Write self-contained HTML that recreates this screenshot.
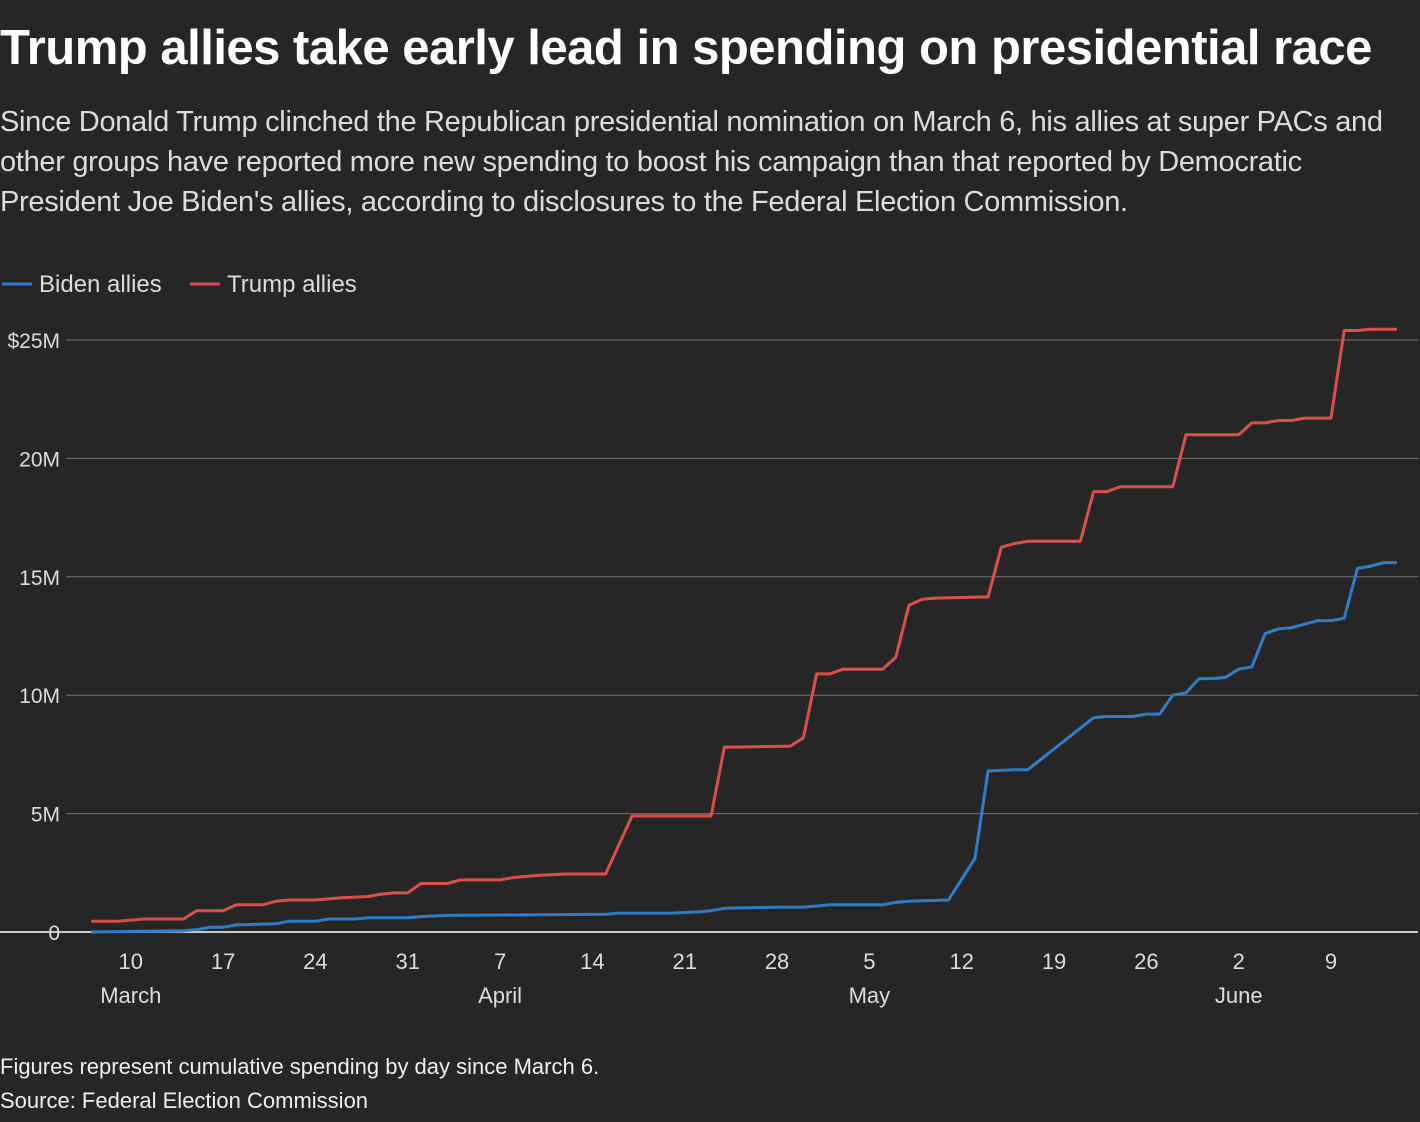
<!DOCTYPE html>
<html><head><meta charset="utf-8"><style>
body{margin:0;background:#262626;width:1420px;height:1122px;overflow:hidden;font-family:"Liberation Sans",sans-serif;color:#fff}
#title{position:absolute;left:0;top:20px;font-size:49px;font-weight:bold;letter-spacing:-0.5px;margin:0;white-space:nowrap}
#sub{position:absolute;left:0;top:102px;font-size:29px;line-height:40px;color:#ddd;width:1415px;margin:0;letter-spacing:-0.3px}
#notes{position:absolute;left:0;top:1050px;font-size:22px;line-height:34px;color:#eee}
svg{position:absolute;left:0;top:0}
</style></head><body>
<h1 id="title">Trump allies take early lead in spending on presidential race</h1>
<p id="sub">Since Donald Trump clinched the Republican presidential nomination on March 6, his allies at super PACs and other groups have reported more new spending to boost his campaign than that reported by Democratic President Joe Biden's allies, according to disclosures to the Federal Election Commission.</p>
<svg id="chart" width="1420" height="1122"></svg>
<div id="notes"><div>Figures represent cumulative spending by day since March 6.</div><div>Source: Federal Election Commission</div></div>
<script>
const yTicks=[0,5,10,15,20,25];
const yTickLabels=["0","5M","10M","15M","20M","$25M"];
const xTickDays=[4,11,18,25,32,39,46,53,60,67,74,81,88,95];
const xTickLabels=["10","17","24","31","7","14","21","28","5","12","19","26","2","9"];
const monthDays=[4,32,60,88];
const monthLabels=["March","April","May","June"];
const trumpDays=[1,3,5,8,9,11,12,14,15,16,18,20,22,23,24,25,26,28,29,32,33,35,37,40,42,48,49,54,55,56,57,58,61,62,63,64,65,69,70,71,72,76,77,78,79,83,84,88,89,90,91,92,93,95,96,97,98,100];
const trumpVals=[0.45,0.45,0.55,0.55,0.9,0.9,1.15,1.15,1.3,1.35,1.35,1.45,1.5,1.6,1.65,1.65,2.05,2.05,2.2,2.2,2.3,2.4,2.45,2.45,4.9,4.9,7.8,7.85,8.2,10.9,10.9,11.1,11.1,11.6,13.8,14.05,14.1,14.15,16.25,16.4,16.5,16.5,18.6,18.6,18.8,18.8,21,21,21.5,21.5,21.6,21.6,21.7,21.7,25.4,25.4,25.45,25.45];
const bidenDays=[1,8,9,10,11,12,15,16,18,19,21,22,25,26,28,40,41,45,47,48,49,53,55,56,57,61,62,63,66,68,69,71,72,77,78,80,81,82,83,84,85,86,87,88,89,90,91,92,94,95,96,97,98,99,100];
const bidenVals=[0,0.05,0.1,0.2,0.2,0.3,0.35,0.45,0.45,0.55,0.55,0.6,0.6,0.65,0.7,0.75,0.8,0.8,0.85,0.9,1.0,1.05,1.05,1.1,1.15,1.15,1.25,1.3,1.35,3.1,6.8,6.85,6.85,9.05,9.1,9.1,9.2,9.2,10.0,10.1,10.7,10.7,10.75,11.1,11.2,12.6,12.8,12.85,13.15,13.15,13.25,15.35,15.45,15.6,15.6];
const svg=document.getElementById('chart');const NS='http://www.w3.org/2000/svg';
const x=d=>78+d*13.19, y=v=>932-v*23.68;
function mk(t,a,p){const e=document.createElementNS(NS,t);for(const k in a)e.setAttribute(k,a[k]);(p||svg).appendChild(e);return e;}
yTicks.forEach((v,i)=>{
 const l=mk('line',{x1:v===0?0:66,x2:1418,y1:y(v),y2:y(v),stroke:v===0?'#fff':'#777','stroke-width':v===0?1.5:1});
 
 
 const t=mk('text',{x:60,y:y(v)+8,'text-anchor':'end','font-size':21,fill:'#ddd'});t.textContent=yTickLabels[i];
 
 
});
xTickDays.forEach((d,i)=>{const t=mk('text',{x:x(d),y:969,'text-anchor':'middle','font-size':22,fill:'#ddd'});t.textContent=xTickLabels[i];
 
 });
monthDays.forEach((d,i)=>{const t=mk('text',{x:x(d),y:1003,'text-anchor':'middle','font-size':22,fill:'#ddd'});t.textContent=monthLabels[i];
 
 });
function line(ds,vs,c,n){const p=mk('path',{d:ds.map((d,i)=>(i?'L':'M')+x(d).toFixed(1)+' '+y(vs[i]).toFixed(1)).join(''),fill:'none',stroke:c,'stroke-width':3,'stroke-linejoin':'round'});
 
 }
line(bidenDays,bidenVals,'#2f7ec8','biden-line');
line(trumpDays,trumpVals,'#d9504a','trump-line');
[['#2f7ec8','Biden allies',2],['#d9504a','Trump allies',190]].forEach(([c,l,x0])=>{
 const g=mk('g',{});
 
 
 mk('line',{x1:x0,x2:x0+30,y1:284,y2:284,stroke:c,'stroke-width':3},g);
 const t=mk('text',{x:x0+37,y:292,'font-size':24,fill:'#ddd'},g);t.textContent=l;});
</script>
</body></html>
